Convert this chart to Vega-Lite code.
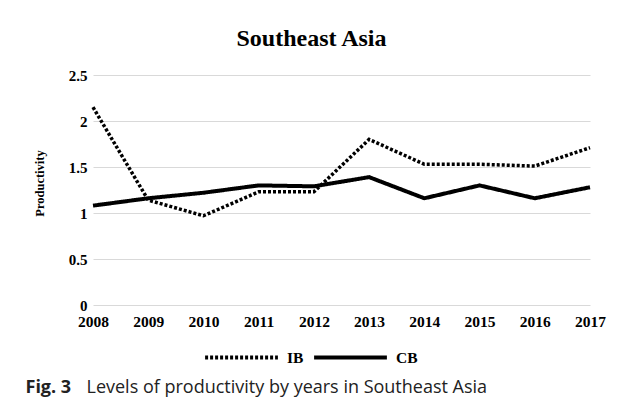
{
  "$schema": "https://vega.github.io/schema/vega-lite/v6.json",
  "width": 497,
  "height": 230,
  "autosize": {"type": "none"},
  "padding": {"left": 93, "top": 75, "right": 29, "bottom": 100},
  "background": "white",
  "title": {
    "text": "Southeast Asia",
    "font": "Liberation Serif",
    "fontSize": 24,
    "fontWeight": "bold",
    "color": "#000000",
    "anchor": "middle",
    "frame": "group",
    "dx": -30,
    "dy": 26,
    "offset": 24,
    "baseline": "alphabetic"
  },
  "config": {
    "view": {"stroke": null},
    "legend": {"symbolStrokeColor": "black"}
  },
  "data": {
    "values": [
      {"year": "2008", "series": "IB", "value": 2.15},
      {"year": "2009", "series": "IB", "value": 1.14},
      {"year": "2010", "series": "IB", "value": 0.97},
      {"year": "2011", "series": "IB", "value": 1.23},
      {"year": "2012", "series": "IB", "value": 1.23},
      {"year": "2013", "series": "IB", "value": 1.80},
      {"year": "2014", "series": "IB", "value": 1.53},
      {"year": "2015", "series": "IB", "value": 1.53},
      {"year": "2016", "series": "IB", "value": 1.51},
      {"year": "2017", "series": "IB", "value": 1.71},
      {"year": "2008", "series": "CB", "value": 1.08},
      {"year": "2009", "series": "CB", "value": 1.16},
      {"year": "2010", "series": "CB", "value": 1.22},
      {"year": "2011", "series": "CB", "value": 1.30},
      {"year": "2012", "series": "CB", "value": 1.29},
      {"year": "2013", "series": "CB", "value": 1.39},
      {"year": "2014", "series": "CB", "value": 1.16},
      {"year": "2015", "series": "CB", "value": 1.30},
      {"year": "2016", "series": "CB", "value": 1.16},
      {"year": "2017", "series": "CB", "value": 1.28}
    ]
  },
  "encoding": {
    "y": {
      "field": "value",
      "type": "quantitative",
      "scale": {"domain": [0, 2.5]},
      "axis": {
        "title": "Productivity",
        "values": [0, 0.5, 1, 1.5, 2, 2.5],
        "format": "~g",
        "domain": false,
        "ticks": false,
        "labelPadding": 6,
        "labelFont": "Liberation Serif",
        "labelFontSize": 15,
        "labelFontWeight": "bold",
        "labelColor": "#000000",
        "gridColor": "#d9d9d9",
        "gridWidth": 1,
        "titleFont": "Liberation Serif",
        "titleFontSize": 12.5,
        "titleFontWeight": "bold",
        "titleColor": "#000000",
        "titleX": -50,
        "titleY": 108,
        "titleAngle": 270,
        "titleAlign": "center",
        "titleBaseline": "alphabetic"
      }
    },
    "strokeDash": {
      "field": "series",
      "type": "nominal",
      "scale": {"domain": ["IB", "CB"], "range": [[3, 2], [1, 0]]},
      "legend": {
        "orient": "none",
        "legendX": 110,
        "legendY": 244,
        "direction": "horizontal",
        "title": null,
        "symbolType": "stroke",
        "symbolSize": 5300,
        "symbolStrokeWidth": 4,
        "symbolStrokeColor": "black",
        "labelFont": "Liberation Serif",
        "labelFontSize": 15.5,
        "labelFontWeight": "bold",
        "labelColor": "#000000",
        "labelOffset": 7,
        "columnPadding": 2
      }
    }
  },
  "layer": [
    {
      "transform": [{"filter": "datum.series === 'IB'"}],
      "mark": {"type": "line", "color": "black", "strokeWidth": 3.5, "strokeCap": "butt"},
      "encoding": {
        "x": {
          "field": "year",
          "type": "ordinal",
          "scale": {"type": "point", "padding": 0},
          "axis": {
            "orient": "bottom",
            "labelAngle": 0,
            "domain": false,
            "ticks": false,
            "grid": false,
            "labelPadding": 9,
            "labelFont": "Liberation Serif",
            "labelFontSize": 15.5,
            "labelFontWeight": "bold",
            "labelColor": "#000000",
            "title": "Fig. 3",
            "titleFont": "Open Sans",
            "titleFontSize": 18,
            "titleFontWeight": "bold",
            "titleColor": "#222222",
            "titleX": -68,
            "titleY": 87,
            "titleAlign": "left",
            "titleBaseline": "alphabetic"
          }
        }
      }
    },
    {
      "transform": [{"filter": "datum.series === 'CB'"}],
      "mark": {"type": "line", "color": "black", "strokeWidth": 4},
      "encoding": {
        "x": {
          "field": "year",
          "type": "ordinal",
          "scale": {"type": "point", "padding": 0},
          "axis": {
            "orient": "bottom",
            "labels": false,
            "domain": false,
            "ticks": false,
            "grid": false,
            "title": "Levels of productivity by years in Southeast Asia",
            "titleFont": "Open Sans",
            "titleFontSize": 18,
            "titleFontWeight": "normal",
            "titleColor": "#222222",
            "titleX": -7,
            "titleY": 87,
            "titleAlign": "left",
            "titleBaseline": "alphabetic"
          }
        }
      }
    }
  ],
  "resolve": {"axis": {"x": "independent"}}
}
